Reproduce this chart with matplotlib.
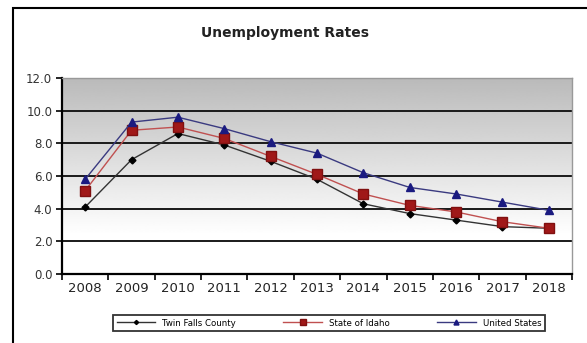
import numpy as np
import matplotlib
matplotlib.use("Agg")
import matplotlib.pyplot as plt
from matplotlib.patches import Rectangle

years = ["2008", "2009", "2010", "2011", "2012", "2013", "2014", "2015", "2016", "2017", "2018"]
twin_falls = [4.1, 7.0, 8.6, 7.9, 6.9, 5.8, 4.3, 3.7, 3.3, 2.9, 2.8]
idaho = [5.1, 8.8, 9.0, 8.3, 7.2, 6.1, 4.9, 4.2, 3.8, 3.2, 2.8]
united_states = [5.8, 9.3, 9.6, 8.9, 8.1, 7.4, 6.2, 5.3, 4.9, 4.4, 3.9]

fig = plt.figure(figsize=(5.87, 3.43), dpi=100)
fig.patches.append(Rectangle((13 / 587, -0.01), 1.0, (343 - 8) / 343 + 0.01,
                             transform=fig.transFigure, fill=False,
                             edgecolor="black", linewidth=1.5))

ax = fig.add_axes([62 / 587, 69 / 343, 510 / 587, 196 / 343])
x = np.arange(len(years))

# gray (top) to white (bottom) background, like the Excel fill
t = np.linspace(0, 1, 256)
grad = np.clip(0.73 + 0.27 * t / 0.8, 0, 1).reshape(-1, 1)
ax.imshow(grad, cmap="gray", vmin=0, vmax=1, aspect="auto", origin="upper",
          extent=[-0.5, len(years) - 0.5, 0, 12], zorder=0)

for yv in range(2, 13, 2):
    ax.axhline(yv, color="#1a1a1a", linewidth=1.4, zorder=1)

ax.plot(x, twin_falls, color="#333333", linewidth=1, marker="D", markersize=3.5,
        markerfacecolor="black", markeredgecolor="black", label="Twin Falls County", zorder=3)
ax.plot(x, idaho, color="#c05050", linewidth=1, marker="s", markersize=7,
        markerfacecolor="#a01818", markeredgecolor="#801010", label="State of Idaho", zorder=4)
ax.plot(x, united_states, color="#3a3a80", linewidth=1, marker="^", markersize=6,
        markerfacecolor="#1a1a80", markeredgecolor="#1a1a80", label="United States", zorder=5)

ax.set_xlim(-0.5, len(years) - 0.5)
ax.set_ylim(0, 12)
ax.set_yticks(range(0, 13, 2))
ax.set_yticklabels([f"{v:.1f}" for v in range(0, 13, 2)], fontsize=8.5, color="#333333")
ax.set_xticks(x)
ax.set_xticklabels(years, fontsize=9.5, color="#222222")
ax.set_xticks(np.arange(-0.5, len(years), 1), minor=True)
ax.tick_params(axis="x", which="major", length=0, pad=6)
ax.tick_params(axis="x", which="minor", length=4, width=1.2, direction="out")
ax.tick_params(axis="y", length=4, width=1.2, direction="out", pad=3)

for side in ["top", "right"]:
    ax.spines[side].set_color("#999999")
    ax.spines[side].set_linewidth(1)
for side in ["left", "bottom"]:
    ax.spines[side].set_color("black")
    ax.spines[side].set_linewidth(1.6)

fig.text(285 / 587, (343 - 33) / 343, "Unemployment Rates",
         ha="center", va="center", fontsize=10, fontweight="bold", color="#222222")

leg = fig.legend(loc="center", bbox_to_anchor=(329 / 587, (343 - 323) / 343), ncol=3,
                 fontsize=6.2, frameon=True, fancybox=False, edgecolor="black",
                 handlelength=4.5, markerscale=0.6, columnspacing=5.5, borderpad=0.4,
                 borderaxespad=0, handletextpad=0.8)
leg.get_frame().set_linewidth(1.3)

fig.savefig("out.png", dpi=100)
